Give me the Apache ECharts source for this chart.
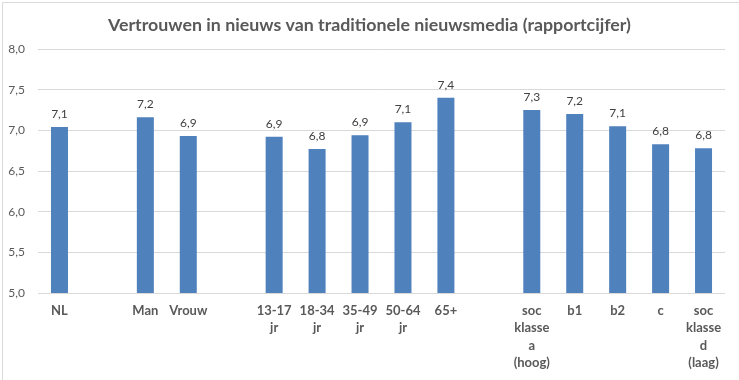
<!DOCTYPE html>
<html>
<head>
<meta charset="utf-8">
<script src="https://cdn.jsdelivr.net/npm/echarts@6/dist/echarts.min.js"></script>
<style>
html,body{margin:0;padding:0;background:#fff;}
#chart{width:739px;height:380px;}
</style>
</head>
<body>
<div id="chart"></div>
<script>
const titleText = 'Vertrouwen in nieuws van traditionele nieuwsmedia (rapportcijfer)';
const categories = ['NL', '', 'Man', 'Vrouw', '', '13-17\njr', '18-34\njr', '35-49\njr', '50-64\njr', '65+', '', 'soc\nklasse\na\n(hoog)', 'b1', 'b2', 'c', 'soc\nklasse\nd\n(laag)'];
const values = [7.04, null, 7.16, 6.93, null, 6.92, 6.77, 6.94, 7.10, 7.40, null, 7.25, 7.20, 7.05, 6.83, 6.78];
const valueLabels = ['7,1', '', '7,2', '6,9', '', '6,9', '6,8', '6,9', '7,1', '7,4', '', '7,3', '7,2', '7,1', '6,8', '6,8'];
const yMin = 5, yMax = 8, yStep = 0.5;

const chart = echarts.init(document.getElementById('chart'));
chart.setOption({
  animation: false,
  backgroundColor: '#fff',
  title: {
    text: titleText,
    left: 'center',
    top: 11,
    textStyle: { fontFamily: 'Lato', fontSize: 17.8, fontWeight: 'bold', color: '#595959' }
  },
  graphic: [{
    type: 'rect', left: 0, top: 0,
    shape: { x: 0.5, y: 0.5, width: 738, height: 379 },
    style: { fill: 'none', stroke: '#d9d9d9', lineWidth: 1 },
    silent: true
  }],
  grid: { left: 38, right: 14, top: 49, bottom: 87, containLabel: false },
  xAxis: {
    type: 'category',
    data: categories,
    axisLine: { show: false },
    axisTick: { show: false },
    axisLabel: {
      interval: 0, margin: 9,
      fontFamily: 'Lato', fontSize: 13, fontWeight: 'bold', color: '#595959', lineHeight: 17.5
    }
  },
  yAxis: {
    type: 'value',
    min: yMin, max: yMax, interval: yStep,
    axisLine: { show: false },
    axisTick: { show: false },
    splitLine: { lineStyle: { color: '#d9d9d9', width: 1 } },
    axisLabel: {
      margin: 13, fontFamily: 'Lato', fontSize: 12, color: '#595959',
      formatter: v => v.toFixed(1).replace('.', ',')
    }
  },
  series: [{
    type: 'bar',
    data: values.map(v => v === null ? '-' : v),
    barWidth: 17,
    itemStyle: { color: '#4f81bd' },
    label: {
      show: true, position: 'top', distance: 7,
      fontFamily: 'Lato', fontSize: 12, color: '#404040',
      formatter: p => valueLabels[p.dataIndex]
    }
  }]
});
</script>
</body>
</html>
